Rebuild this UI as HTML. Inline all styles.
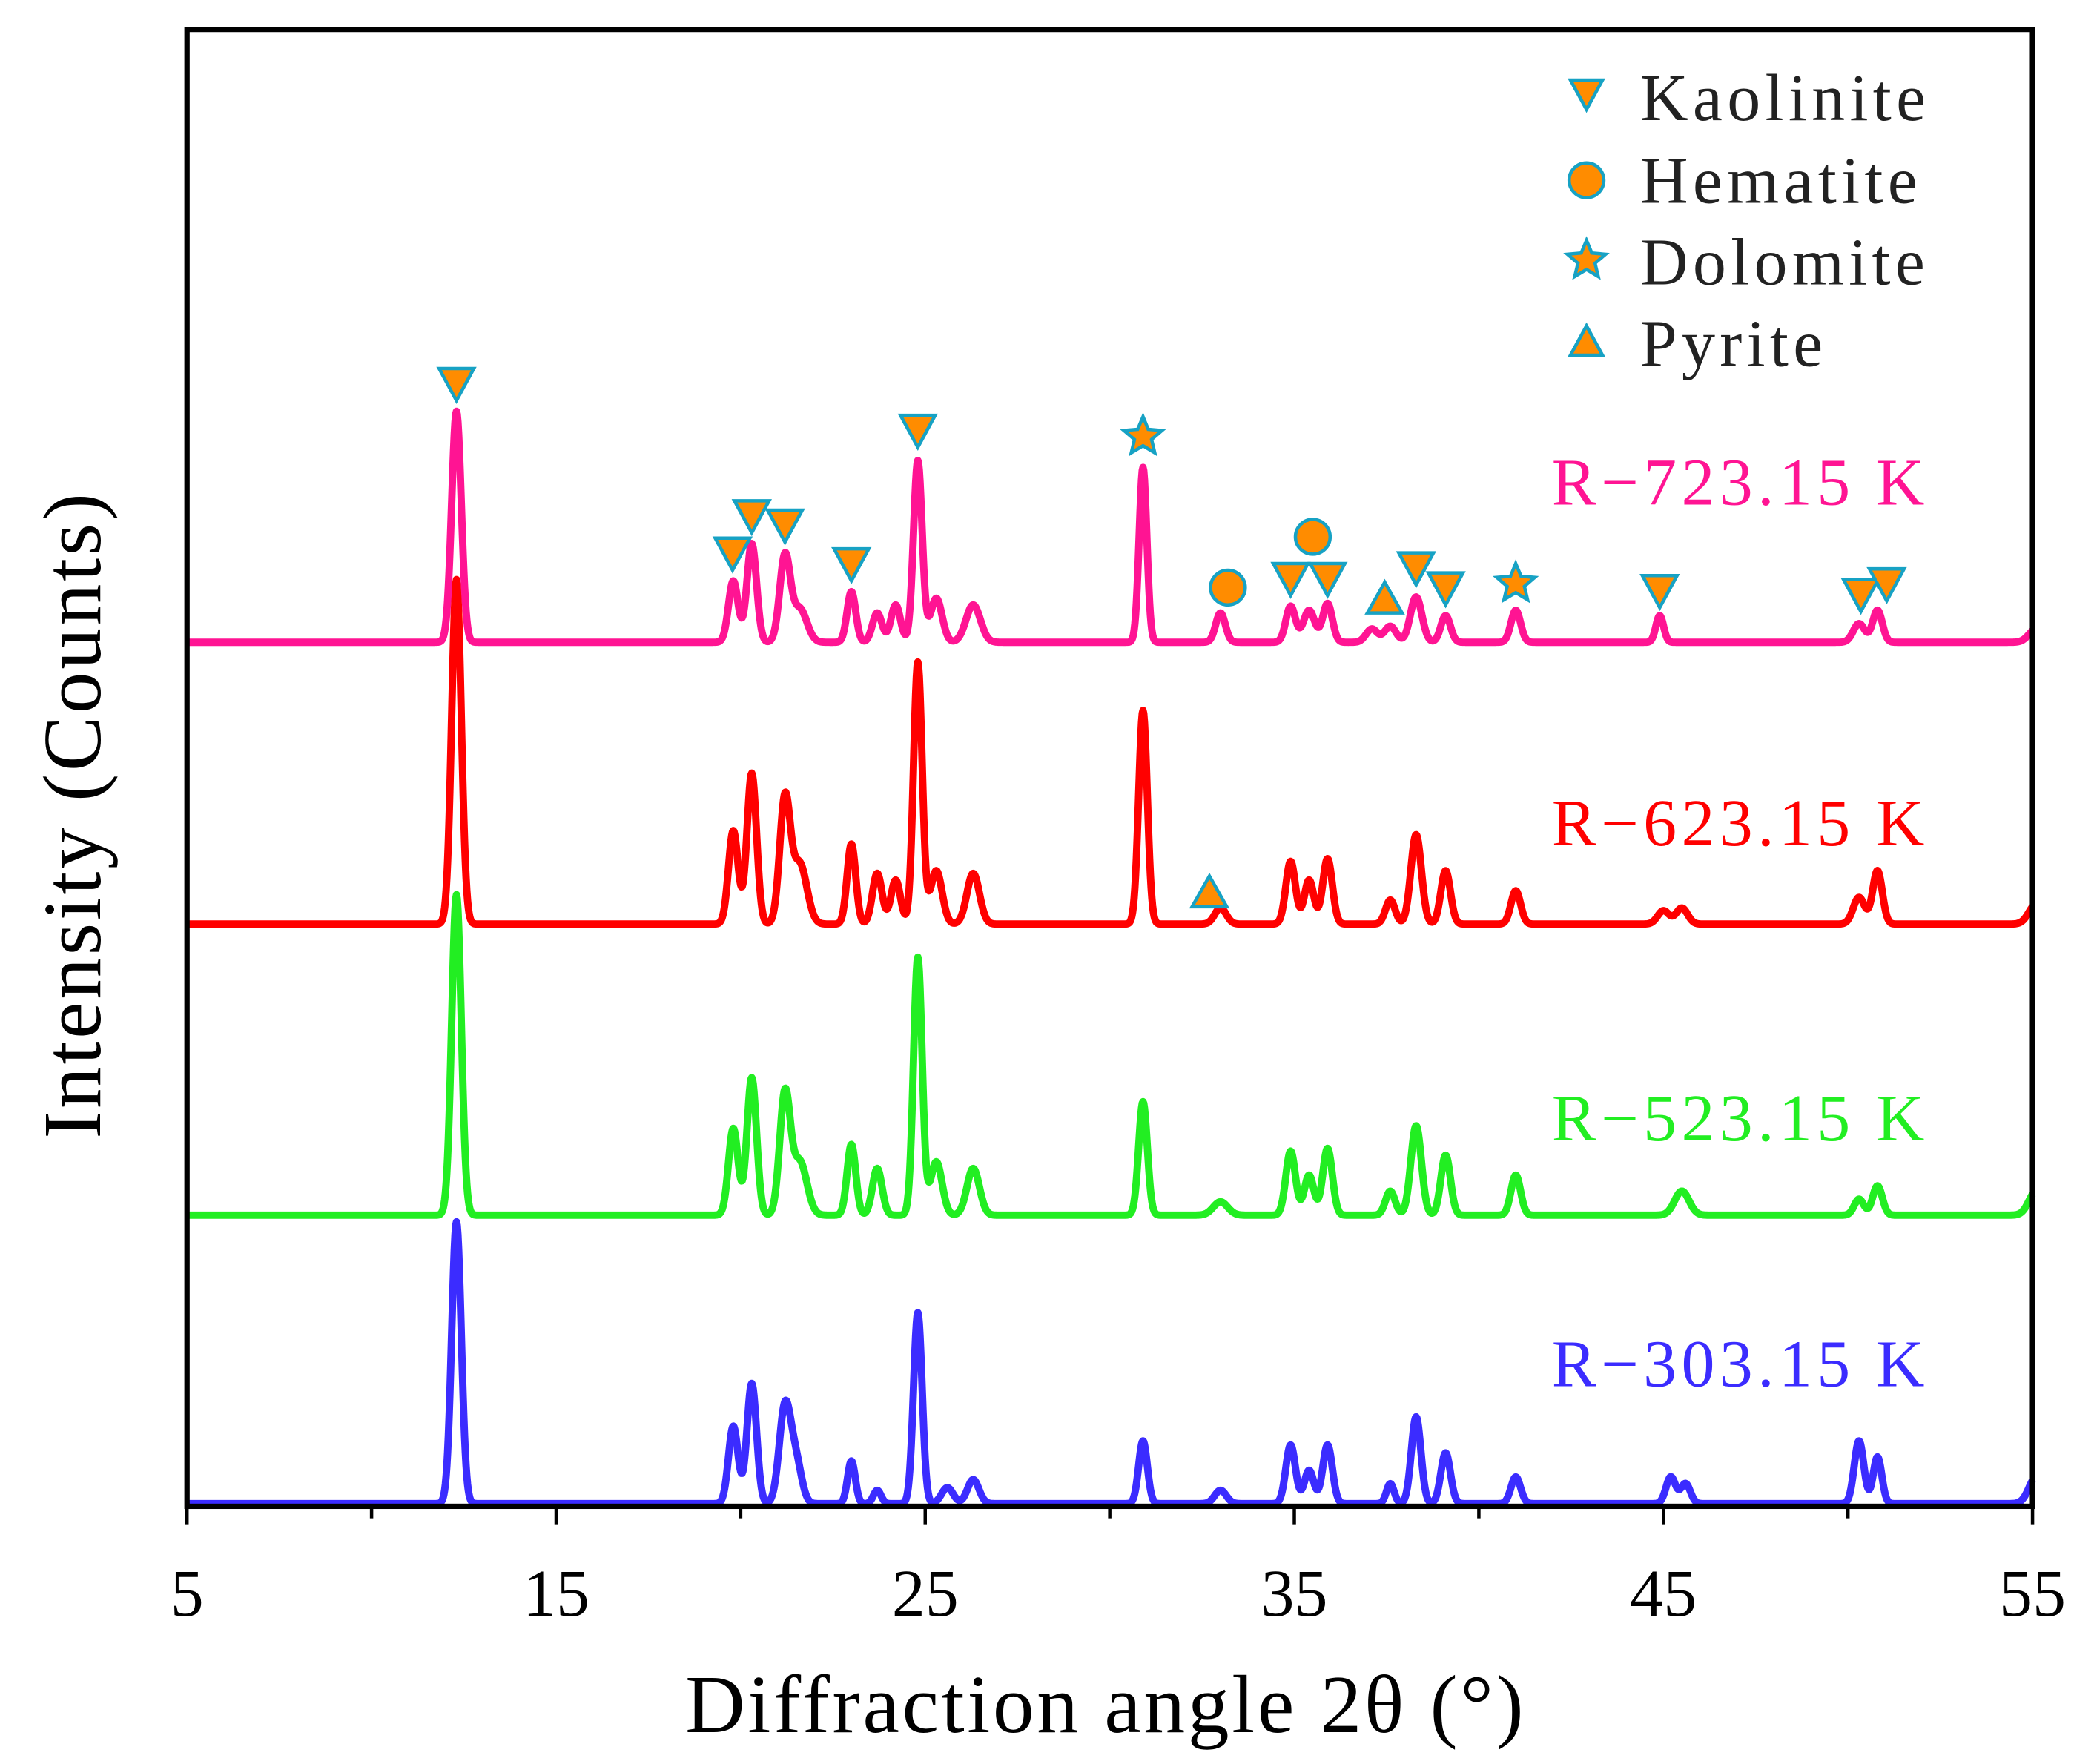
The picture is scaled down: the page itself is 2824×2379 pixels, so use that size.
<!DOCTYPE html>
<html><head><meta charset="utf-8"><style>
html,body{margin:0;padding:0;background:#fff}
svg{display:block}
text{font-family:"Liberation Serif",serif}
</style></head><body>
<svg id="chart" width="2824" height="2379" viewBox="0 0 1568 1321" xmlns="http://www.w3.org/2000/svg">
<g id="series"></g>
<g id="axes"></g>
<g id="markers"></g>
<g font-size="50" fill="#222">
<g><path d="M1176,60 L1200,60 L1188,82 Z" fill="#ff8c00" stroke="#17a2c4" stroke-width="2.5"/><text x="1228" y="90" letter-spacing="3.5">Kaolinite</text></g>
<g><circle cx="1188" cy="135" r="13" fill="#ff8c00" stroke="#17a2c4" stroke-width="2.5"/><text x="1228" y="152" letter-spacing="3.5">Hematite</text></g>
<g><path id="legstar" fill="#ff8c00" stroke="#17a2c4" stroke-width="2.5"/><text x="1228" y="213" letter-spacing="3.5">Dolomite</text></g>
<g><path d="M1176,266 L1200,266 L1188,244 Z" fill="#ff8c00" stroke="#17a2c4" stroke-width="2.5"/><text x="1228" y="274" letter-spacing="3.5">Pyrite</text></g>
</g>
<g font-size="50" letter-spacing="3.5">
<text x="1162" y="378" fill="#ff1493">R−723.15 K</text>
<text x="1162" y="633" fill="#ff0000">R−623.15 K</text>
<text x="1162" y="854" fill="#22ee22">R−523.15 K</text>
<text x="1162" y="1038" fill="#3b2cff">R−303.15 K</text>
</g>
<text x="828" y="1297" font-size="62" text-anchor="middle" letter-spacing="2">Diffraction angle 2θ (°)</text>
<text transform="translate(75,610) rotate(-90)" font-size="62" text-anchor="middle" letter-spacing="2">Intensity (Counts)</text>
</svg>
<script>
// x positions (deg), heights (relative px), widths (deg) per series
const peaks303 = [[12.3,211,0.1],[19.8,58,0.1],[20.3,90,0.1],[21.2,72,0.12],[21.5,30,0.12],[23.0,32,0.08],[23.7,10,0.08],[24.8,143,0.09],[25.6,12,0.12],[26.3,18,0.12],[30.9,47,0.09],[33.0,10,0.12],[34.9,44,0.1],[35.4,25,0.1],[35.9,44,0.1],[37.6,15,0.08],[38.3,65,0.1],[39.1,38,0.1],[41.0,20,0.1],[45.2,20,0.1],[45.6,15,0.1],[50.3,47,0.1],[50.8,35,0.09],[55.1,20,0.15]];
const peaks523 = [[12.3,240,0.1],[19.8,65,0.1],[20.3,103,0.1],[21.2,90,0.11],[21.6,40,0.15],[23.0,53,0.09],[23.7,35,0.1],[24.8,193,0.09],[25.3,40,0.12],[26.3,35,0.13],[30.9,85,0.09],[33.0,10,0.15],[34.9,48,0.1],[35.4,30,0.1],[35.9,50,0.1],[37.6,18,0.1],[38.3,67,0.11],[39.1,45,0.1],[41.0,30,0.1],[45.5,18,0.15],[50.3,12,0.1],[50.8,22,0.1],[55.1,18,0.15]];
const peaks623 = [[12.3,258,0.1],[19.8,70,0.1],[20.3,113,0.1],[21.2,93,0.11],[21.6,45,0.15],[23.0,60,0.09],[23.7,38,0.1],[24.2,33,0.1],[24.8,196,0.09],[25.3,40,0.12],[26.3,38,0.13],[30.9,160,0.09],[33.0,12,0.12],[34.9,47,0.1],[35.4,33,0.1],[35.9,49,0.1],[37.6,18,0.1],[38.3,67,0.11],[39.1,40,0.1],[41.0,25,0.1],[45.0,10,0.12],[45.5,12,0.12],[50.3,20,0.12],[50.8,40,0.1],[55.1,15,0.15]];
const peaks723 = [[12.3,173,0.1],[19.8,46,0.1],[20.3,74,0.1],[21.2,64,0.11],[21.6,25,0.15],[23.0,38,0.09],[23.7,22,0.1],[24.2,28,0.1],[24.8,136,0.09],[25.3,33,0.12],[26.3,28,0.15],[30.9,131,0.08],[33.0,22,0.1],[34.9,27,0.1],[35.4,24,0.12],[35.9,29,0.1],[37.1,10,0.12],[37.6,12,0.12],[38.3,34,0.12],[39.1,20,0.1],[41.0,24,0.1],[44.9,20,0.08],[50.3,14,0.12],[50.8,24,0.1],[55.1,10,0.15]];
const seriesBases = [1126,910,692,481];
const seriesColors = ['#3b2cff','#22ee22','#ff0000','#ff1493'];
const seriesNames = ['series-303','series-523','series-623','series-723'];
const xTicks = [5,15,25,35,45,55];
const kaolinite = [[12.3,288],[19.78,415],[20.3,387],[21.2,394],[23.0,423],[24.8,323],[34.9,434],[35.9,434],[38.3,426],[39.1,441],[44.9,443],[50.35,446],[51.05,438]];
const hematite = [[33.2,440],[35.5,402]];
const dolomite = [[30.9,327],[41.0,437]];
const pyrite = [[37.45,448],[32.7,668]];

const NS='http://www.w3.org/2000/svg';
const X0=140,X1=1522,YT=22,YB=1128;
const xs=v=>X0+(v-5)*(X1-X0)/50;
function mk(tag,attrs,parent){const e=document.createElementNS(NS,tag);for(const k in attrs)e.setAttribute(k,attrs[k]);parent.appendChild(e);return e;}
const sg=document.getElementById('series');
const all=[peaks303,peaks523,peaks623,peaks723];
all.forEach((pk,i)=>{
  let d='';
  for(let x=5;x<=55.001;x+=0.02){
    let y=0;pk.forEach(p=>{const w=p[2]*1.3;y+=p[1]*Math.exp(-Math.pow((x-p[0])/w,2)/2);});
    d+=(d?'L':'M')+xs(x).toFixed(2)+','+(seriesBases[i]-y).toFixed(2);
  }
  const p=mk('path',{d:d,fill:'none',stroke:seriesColors[i],'stroke-width':5.5,'stroke-linejoin':'round'},sg);
  
  
});
const ax=document.getElementById('axes');
const fr=mk('rect',{x:X0,y:YT,width:X1-X0,height:YB-YT,fill:'none',stroke:'#000','stroke-width':4},ax);


for(let v=5;v<=55;v+=5){
  const major=xTicks.includes(v);
  const t=mk('line',{x1:xs(v),x2:xs(v),y1:YB,y2:YB+(major?14:9),stroke:'#000','stroke-width':2.5},ax);
  
  
}
xTicks.forEach(v=>{
  const t=mk('text',{x:xs(v),y:1210,'font-size':50,'text-anchor':'middle'},ax);
  t.textContent=v;
  
  
});
const mg=document.getElementById('markers');
const st={fill:'#ff8c00',stroke:'#17a2c4','stroke-width':2.5};
function star(cx,cy,r){let d='';for(let k=0;k<10;k++){const a=-Math.PI/2+k*Math.PI/5;const rr=k%2?r*0.45:r;d+=(k?'L':'M')+(cx+rr*Math.cos(a)).toFixed(1)+','+(cy+rr*Math.sin(a)).toFixed(1);}return d+'Z';}
document.getElementById('legstar').setAttribute('d',star(1188,195,15));
kaolinite.forEach(m=>{const x=xs(m[0]),y=m[1];const e=mk('path',Object.assign({d:`M${x-13},${y-12}L${x+13},${y-12}L${x},${y+12}Z`},st),mg);
  
  });
hematite.forEach(m=>{const e=mk('circle',Object.assign({cx:xs(m[0]),cy:m[1],r:13},st),mg);
  
  });
dolomite.forEach(m=>{const e=mk('path',Object.assign({d:star(xs(m[0]),m[1],15)},st),mg);
  
  });
pyrite.forEach(m=>{const x=xs(m[0]),y=m[1];const e=mk('path',Object.assign({d:`M${x-13},${y+11}L${x+13},${y+11}L${x},${y-12}Z`},st),mg);
  
  });
</script>
</body></html>
